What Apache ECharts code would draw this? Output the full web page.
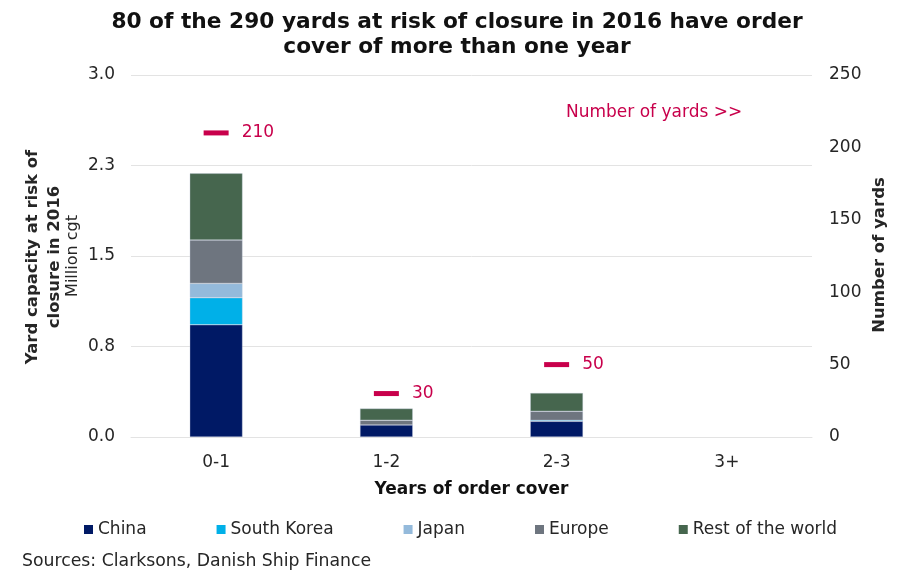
<!DOCTYPE html>
<html>
<head>
<meta charset="utf-8">
<script src="https://cdn.jsdelivr.net/npm/echarts@6/dist/echarts.min.js"></script>
<style>
  html, body { margin: 0; padding: 0; background: #ffffff; }
  #chart { width: 903px; height: 571px; }
</style>
</head>
<body>
<div id="chart"></div>
<script>
// Years of order cover
const categories = ['0-1', '1-2', '2-3', '3+'];

// Yard capacity at risk of closure in 2016 (million cgt), by region
const china      = [0.93, 0.10, 0.13, null];
const southKorea = [0.224, null, 0.008, null];
const japan      = [0.119, null, null, null];
const europe     = [0.359, 0.039, 0.075, null];
const restWorld  = [0.553, 0.097, 0.152, null];

// Number of yards (right axis)
const yardCounts = [210, 30, 50, null];

// Left axis tick labels (interval 0.75)
const leftTickLabels = ['0.0', '0.8', '1.5', '2.3', '3.0'];

const FONT = 'DejaVu Sans';
const RED = '#C8004B';
const TEXT = '#262626';

const chart = echarts.init(document.getElementById('chart'), null, { renderer: 'canvas' });

function barSeries(name, data, color) {
  return {
    name: name,
    type: 'bar',
    stack: 'capacity',
    data: data,
    barWidth: '31%',
    itemStyle: { color: color, borderColor: 'rgba(200,210,225,0.7)', borderWidth: 0.5 },
    yAxisIndex: 0
  };
}

function rotatedText(text, x, y, font) {
  return {
    type: 'text',
    x: x, y: y,
    rotation: Math.PI / 2,
    style: { text: text, font: font, fill: TEXT, textAlign: 'center', textVerticalAlign: 'middle' }
  };
}

chart.setOption({
  animation: false,
  textStyle: { fontFamily: FONT },
  title: {
    text: '80 of the 290 yards at risk of closure in 2016 have order\ncover of more than one year',
    left: 452,
    textAlign: 'center',
    top: 5,
    textStyle: { fontFamily: FONT, fontSize: 21.7, fontWeight: 'bold', color: '#111', lineHeight: 25 }
  },
  grid: { left: 131, right: 91, top: 75, bottom: 134, containLabel: false },
  legend: {
    data: ['China', 'South Korea', 'Japan', 'Europe', 'Rest of the world'],
    left: 84,
    top: 521,
    padding: 0,
    itemWidth: 9,
    itemHeight: 9,
    itemGap: 70,
    icon: 'rect',
    itemStyle: { borderWidth: 0 },
    textStyle: { fontFamily: FONT, fontSize: 17, color: TEXT, padding: 0 }
  },
  xAxis: {
    type: 'category',
    data: categories,
    axisLine: { show: true, lineStyle: { color: '#e3e3e3', width: 1 } },
    axisTick: { show: false },
    axisLabel: { fontFamily: FONT, fontSize: 17, color: TEXT, margin: 17 },
    name: 'Years of order cover',
    nameLocation: 'middle',
    nameGap: 44,
    nameTextStyle: { fontFamily: FONT, fontSize: 17, fontWeight: 'bold', color: '#111' }
  },
  yAxis: [
    {
      type: 'value',
      min: 0,
      max: 3,
      interval: 0.75,
      axisLine: { show: false },
      axisTick: { show: false },
      splitLine: { lineStyle: { color: '#e3e3e3', width: 1 } },
      axisLabel: {
        fontFamily: FONT, fontSize: 17, color: TEXT, margin: 16,
        formatter: function (v) { return leftTickLabels[Math.round(v / 0.75)]; }
      }
    },
    {
      type: 'value',
      min: 0,
      max: 250,
      interval: 50,
      position: 'right',
      axisLine: { show: false },
      axisTick: { show: false },
      splitLine: { show: false },
      axisLabel: { fontFamily: FONT, fontSize: 17, color: TEXT, margin: 17 }
    }
  ],
  series: [
    barSeries('China', china, '#001965'),
    barSeries('South Korea', southKorea, '#00B0E8'),
    barSeries('Japan', japan, '#94BADB'),
    barSeries('Europe', europe, '#6E757F'),
    barSeries('Rest of the world', restWorld, '#46664E'),
    {
      name: 'Number of yards',
      type: 'scatter',
      yAxisIndex: 1,
      data: yardCounts,
      symbol: 'rect',
      symbolSize: [25, 5],
      itemStyle: { color: RED, opacity: 1 },
      label: {
        show: true,
        position: 'right',
        distance: 13,
        fontFamily: FONT,
        fontSize: 17,
        color: RED,
        formatter: function (p) { return p.value; }
      }
    }
  ],
  graphic: [
    rotatedText('Yard capacity at risk of', 33, 257, 'bold 16.5px "DejaVu Sans"'),
    rotatedText('closure in 2016', 55, 257, 'bold 16.5px "DejaVu Sans"'),
    rotatedText('Million cgt', 73, 256, '16px "DejaVu Sans"'),
    rotatedText('Number of yards', 880, 255, 'bold 16.5px "DejaVu Sans"'),
    {
      type: 'text',
      x: 566, y: 113,
      style: {
        text: 'Number of yards >>',
        font: '17px "DejaVu Sans"',
        fill: RED,
        textAlign: 'left',
        textVerticalAlign: 'middle'
      }
    },
    {
      type: 'text',
      x: 22, y: 562,
      style: {
        text: 'Sources: Clarksons, Danish Ship Finance',
        font: '17.3px "DejaVu Sans"',
        fill: TEXT,
        textAlign: 'left',
        textVerticalAlign: 'middle'
      }
    }
  ]
});
</script>
</body>
</html>
